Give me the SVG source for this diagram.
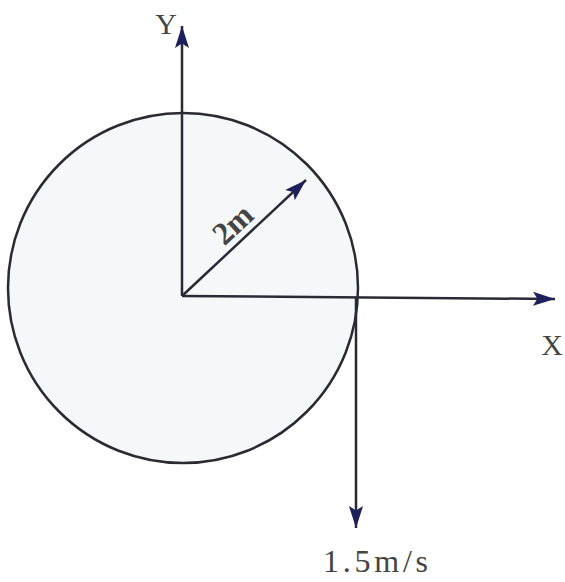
<svg xmlns="http://www.w3.org/2000/svg" width="565" height="582" viewBox="0 0 565 582">
<style>
.ln{stroke:#2a2a35;stroke-width:2.5;fill:none}
.lbl{font-family:"Liberation Serif",serif;fill:#444;}
</style>
<defs>
<marker id="ahL" viewBox="0 0 10 10" refX="10" refY="5" markerWidth="22" markerHeight="22" markerUnits="userSpaceOnUse" orient="auto">
<path d="M0,1.8 L10,5 L0,8.2 L2,5 Z" fill="#1f1f5c"/>
</marker>
</defs>
<g id="disk">
<circle cx="183" cy="288" r="175" fill="#f5f7f9" stroke="#2a2a30" stroke-width="2.5"/>
</g>
<g id="connectors">
<line class="ln" x1="182" y1="296" x2="182" y2="26" marker-end="url(#ahL)"/>
<line class="ln" x1="182" y1="296" x2="555" y2="299" stroke="#8a8a8f" marker-end="url(#ahL)"/>
<line class="ln" x1="182" y1="296" x2="306" y2="180" marker-end="url(#ahL)"/>
<line class="ln" x1="356" y1="298" x2="356" y2="528" marker-end="url(#ahL)"/>
</g>
<g id="labels">
<text class="lbl" x="166" y="34" font-size="30" text-anchor="middle" fill="#222">Y</text>
<text class="lbl" x="552" y="355" font-size="30" text-anchor="middle" fill="#666">X</text>
<text class="lbl" x="240" y="232" font-size="32" font-weight="bold" text-anchor="middle" transform="rotate(-43 240 232)" fill="#222">2m</text>
<text class="lbl" x="323" y="572" font-size="32" textLength="105" lengthAdjust="spacing" fill="#555">1.5m/s</text>
</g>
</svg>
